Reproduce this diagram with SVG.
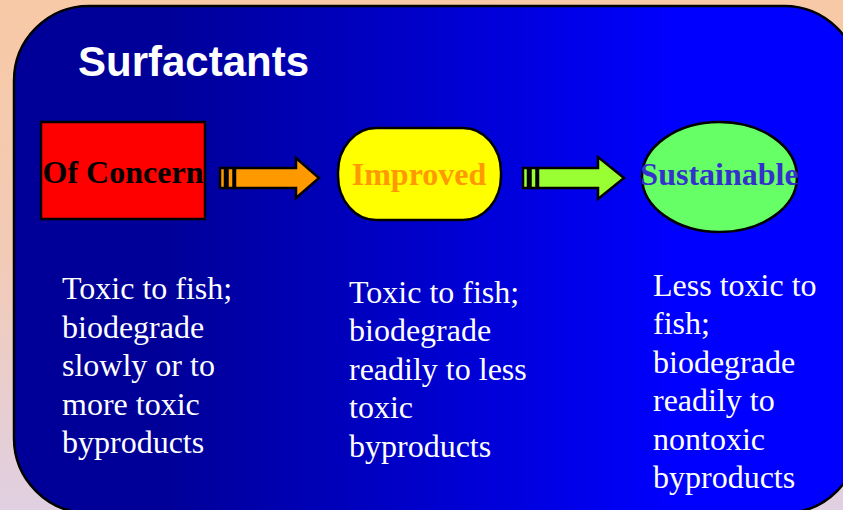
<svg xmlns="http://www.w3.org/2000/svg" width="843" height="510" viewBox="0 0 843 510">
  <defs>
    <linearGradient id="bg" x1="0" y1="0" x2="0" y2="1">
      <stop offset="0" stop-color="#F8C9A6"/>
      <stop offset="0.5" stop-color="#F2CBB6"/>
      <stop offset="1" stop-color="#E0D0E2"/>
    </linearGradient>
    <linearGradient id="panel" gradientUnits="userSpaceOnUse" x1="170" y1="0" x2="680" y2="0">
      <stop offset="0" stop-color="#000099"/>
      <stop offset="1" stop-color="#0000FF"/>
    </linearGradient>
    <style>
      .body { font-family: "Liberation Serif", "Times New Roman", serif; font-size: 32px; fill: #FFFFFF; }
      .lbl { font-family: "Liberation Serif", "Times New Roman", serif; font-size: 32px; font-weight: bold; text-anchor: middle; }
      .stk { stroke: #000000; stroke-width: 2.5; }
    </style>
  </defs>
  <rect x="0" y="0" width="843" height="510" fill="url(#bg)"/>
  <rect x="14" y="6" width="845" height="507" rx="75" ry="75" fill="url(#panel)" stroke="#000" stroke-width="2.5"/>
  <text x="78" y="76" style="font-family:'Liberation Sans', Arial, sans-serif; font-size:42px; font-weight:bold; fill:#FFFFFF;">Surfactants</text>

  <g id="node-concern">
    <rect x="41" y="122" width="164" height="97" fill="#FF0000" class="stk"/>
    <text x="123" y="183" class="lbl" fill="#000000">Of Concern</text>
  </g>
  <g id="node-improved">
    <rect x="338" y="128" width="163" height="92" rx="38" ry="44" fill="#FFFF00" class="stk"/>
    <text x="419" y="185" class="lbl" fill="#FF9900">Improved</text>
  </g>
  <g id="node-sustainable">
    <ellipse cx="719.5" cy="177" rx="77.5" ry="55" fill="#66FF66" class="stk"/>
    <text x="719.5" y="185" class="lbl" fill="#3333CC">Sustainable</text>
  </g>

  <g id="connectors">
    <g id="arrow1" fill="#FF9900" class="stk">
      <rect x="220" y="168" width="5" height="20"/>
      <rect x="227.5" y="168" width="6" height="20"/>
      <polygon points="235,168 296,168 296,158 319,178 296,198 296,188 235,188"/>
    </g>
    <g id="arrow2" fill="#99FF33" class="stk">
      <rect x="523" y="168" width="5" height="20"/>
      <rect x="530.5" y="168" width="6" height="20"/>
      <polygon points="538,168 598,168 598,157 624,178 598,199 598,188 538,188"/>
    </g>
  </g>

  <g id="text-concern" class="body">
    <text x="62" y="299">Toxic to fish;</text>
    <text x="62" y="338">biodegrade</text>
    <text x="62" y="376">slowly or to</text>
    <text x="62" y="415">more toxic</text>
    <text x="62" y="453">byproducts</text>
  </g>
  <g id="text-improved" class="body">
    <text x="349" y="303">Toxic to fish;</text>
    <text x="349" y="341">biodegrade</text>
    <text x="349" y="380">readily to less</text>
    <text x="349" y="418">toxic</text>
    <text x="349" y="457">byproducts</text>
  </g>
  <g id="text-sustainable" class="body">
    <text x="653" y="296">Less toxic to</text>
    <text x="653" y="334">fish;</text>
    <text x="653" y="373">biodegrade</text>
    <text x="653" y="411">readily to</text>
    <text x="653" y="450">nontoxic</text>
    <text x="653" y="488">byproducts</text>
  </g>
</svg>
